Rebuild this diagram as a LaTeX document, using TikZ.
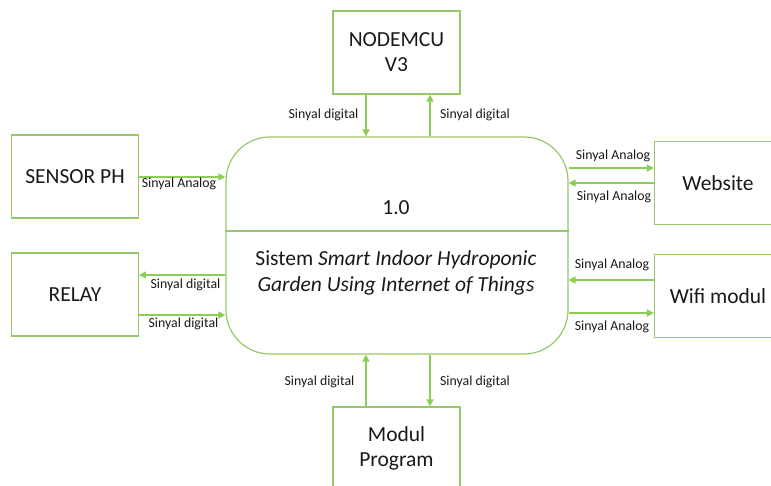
\documentclass[tikz,border=0pt]{standalone}
\usepackage{fontspec}
\setmainfont{Carlito}
\usetikzlibrary{arrows.meta}
\definecolor{boxgreen}{RGB}{150,200,105}
\definecolor{arrgreen}{RGB}{140,205,85}
\definecolor{ink}{RGB}{25,25,25}
\tikzset{
  entity/.style={draw=boxgreen, line width=1.2pt, minimum width=127pt, minimum height=83pt,
    inner sep=0pt, align=center, text=ink, font=\fontsize{21.5}{25}\selectfont},
  flow/.style={draw=arrgreen, line width=1.4pt, -{Triangle[width=7pt,length=7pt]}},
  lbl/.style={text=ink, font=\fontsize{13.8}{15}\selectfont, inner sep=0pt}
}
\begin{document}
\begin{tikzpicture}[x=1pt,y=-1pt]
\useasboundingbox (0,0) rectangle (771,486);
\clip (0,0) rectangle (771,486);

% central process
\node[draw=boxgreen, line width=1.2pt, rounded corners=44pt, minimum width=342pt,
      minimum height=217pt, inner sep=0pt] (proc) at (397,245.5) {};
\draw[boxgreen, line width=1.2pt] (proc.west |- 0,231) -- (proc.east |- 0,231);
\node[text=ink, font=\fontsize{21.5}{24}\selectfont] (pnum) at (396,208) {1.0};
\node[text=ink, font=\fontsize{21.5}{26}\selectfont, align=center] (ptitle) at (396,273)
  {Sistem \textit{Smart Indoor Hydroponic}\\\textit{Garden Using Internet of Things}};

% external entities
\node[entity] (nodemcu) at (396.5,52.5) {NODEMCU\\V3};
\node[entity] (modul) at (396.5,448.5) {Modul\\Program};
\node[entity] (sensor) at (75,176.5) {SENSOR PH};
\node[entity] (relay) at (75,294.5) {RELAY};
\node[entity] (web) at (718,183) {Website};
\node[entity] (wifi) at (718,296) {Wifi modul};

% flows
\draw[flow] (nodemcu.south -| 366,0) -- (proc.north -| 366,0);
\draw[flow] (proc.north -| 430,0) -- (nodemcu.south -| 430,0);
\draw[flow] (modul.north -| 366,0) -- (proc.south -| 366,0);
\draw[flow] (proc.south -| 430,0) -- (modul.north -| 430,0);
\draw[flow] (sensor.east |- 0,177) -- (proc.west |- 0,177);
\draw[flow] (proc.west |- 0,275) -- (relay.east |- 0,275);
\draw[flow] (relay.east |- 0,315) -- (proc.west |- 0,315);
\draw[flow] (proc.east |- 0,168) -- (web.west |- 0,168);
\draw[flow] (web.west |- 0,183) -- (proc.east |- 0,183);
\draw[flow] (wifi.west |- 0,280) -- (proc.east |- 0,280);
\draw[flow] (proc.east |- 0,313) -- (wifi.west |- 0,313);

% flow labels
\node[lbl] (l1) at (323.5,115) {Sinyal digital};
\node[lbl] (l2) at (475,115) {Sinyal digital};
\node[lbl] (l3) at (319.5,382) {Sinyal digital};
\node[lbl] (l4) at (475,382) {Sinyal digital};
\node[lbl] (l5) at (179,184) {Sinyal Analog};
\node[lbl] (l6) at (185.5,285) {Sinyal digital};
\node[lbl] (l7) at (183.5,324) {Sinyal digital};
\node[lbl] (l8) at (613,156) {Sinyal Analog};
\node[lbl] (l9) at (614,197) {Sinyal Analog};
\node[lbl] (l10) at (612,265) {Sinyal Analog};
\node[lbl] (l11) at (612,327) {Sinyal Analog};
\end{tikzpicture}
\end{document}
